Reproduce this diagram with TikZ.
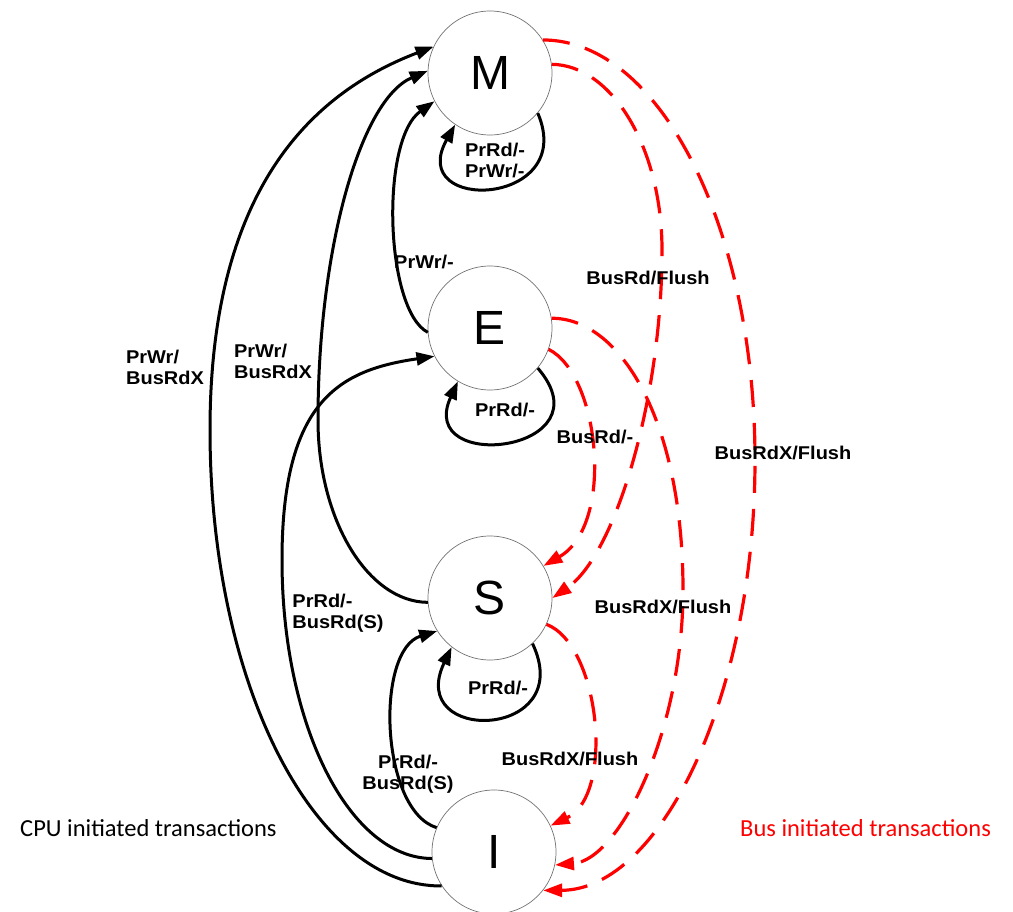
\documentclass[tikz,border=0pt]{standalone}
\usepackage{fontspec}
\setmainfont{Liberation Sans}
\newfontfamily\lblfont[FakeStretch=1.08]{Liberation Sans}
\newfontfamily\legendfont{Carlito}
\usetikzlibrary{arrows.meta}
\begin{document}
\begin{tikzpicture}[x=1pt,y=-1pt,
  state/.style={circle,draw=black!55,line width=0.7pt,minimum size=124pt,inner sep=0pt,
    font=\fontsize{48}{48}\selectfont},
  cpu/.style={line width=3pt,-{Triangle[length=18pt,width=13pt]}},
  bus/.style={red,line width=3.2pt,dash pattern=on 27pt off 16pt,
    -{Triangle[length=19pt,width=13pt]}},
  lbl/.style={font=\lblfont\bfseries\fontsize{18.5}{21}\selectfont,inner sep=0pt,align=center},
  legend/.style={font=\legendfont\fontsize{24.5}{28}\selectfont,inner sep=0pt,anchor=west}]
\useasboundingbox (0,0) rectangle (1013,912);

% states
\node[state] (M) at (490,73)  {M};
\node[state] (E) at (490,328) {E};
\node[state] (S) at (490,598) {S};
\node[state] (I) at (494,852) {I};

% processor-side transitions
\draw[cpu] (I.213) .. controls (313,887) and (210,682) .. (210,430)
                  .. controls (210,180) and (320,90) .. (M.155);
\draw[cpu] (S.184) .. controls (368,602) and (318,520) .. (318,420)
                  .. controls (318,250) and (360,100) .. (M.178);
\draw[cpu] (E.184) .. controls (385,310) and (380,140) .. (M.207);
\draw[cpu] (I.186) .. controls (349,858) and (282,725) .. (282,560)
                  .. controls (282,400) and (340,370) .. (E.207);
\draw[cpu] (I.157) .. controls (380,810) and (375,650) .. (S.212);
\draw[cpu] (M.320) .. controls (578,207) and (405,214) .. (M.236);
\draw[cpu] (E.320) .. controls (610,452) and (415,475) .. (E.239);
\draw[cpu] (S.313) .. controls (578,740) and (405,745) .. (S.232);

% snooped bus transitions
\draw[bus] (M.32) .. controls (660,40) and (755,228) .. (755,460)
                 .. controls (755,697) and (660,890) .. (I.322);
\draw[bus] (M.8) .. controls (612,65) and (662,148) .. (662,250)
                .. controls (662,400) and (615,555) .. (S.0);
\draw[bus] (E.9) .. controls (620,318) and (683,420) .. (683,590)
                .. controls (683,730) and (620,860) .. (I.348);
\draw[bus] (E.340) .. controls (600,375) and (615,525) .. (S.31);
\draw[bus] (S.335) .. controls (600,645) and (615,795) .. (I.25);

% transition labels
\node[lbl,align=left] (tIM) at (165,367) {PrWr/\\BusRdX};
\node[lbl,align=left] (tSM) at (273,361) {PrWr/\\BusRdX};
\node[lbl] (tEM) at (424,262) {PrWr/-};
\node[lbl,align=left] (tMM) at (495,160) {PrRd/-\\PrWr/-};
\node[lbl] (tEE) at (505,410) {PrRd/-};
\node[lbl] (tSS) at (498,688) {PrRd/-};
\node[lbl,align=left] (tIE) at (338,613) {PrRd/-\\BusRd(S)};
\node[lbl] (tIS) at (408,774) {PrRd/-\\BusRd(S)};
\node[lbl] (bMS) at (648,278) {BusRd/Flush};
\node[lbl] (bES) at (595,437) {BusRd/-};
\node[lbl] (bMI) at (783,453) {BusRdX/Flush};
\node[lbl] (bEI) at (663,607) {BusRdX/Flush};
\node[lbl] (bSI) at (570,759) {BusRdX/Flush};

% legend
\node[legend] (cpuleg) at (20,828) {CPU initiated transactions};
\node[legend,text=red] (busleg) at (740,828) {Bus initiated transactions};
\end{tikzpicture}
\end{document}
